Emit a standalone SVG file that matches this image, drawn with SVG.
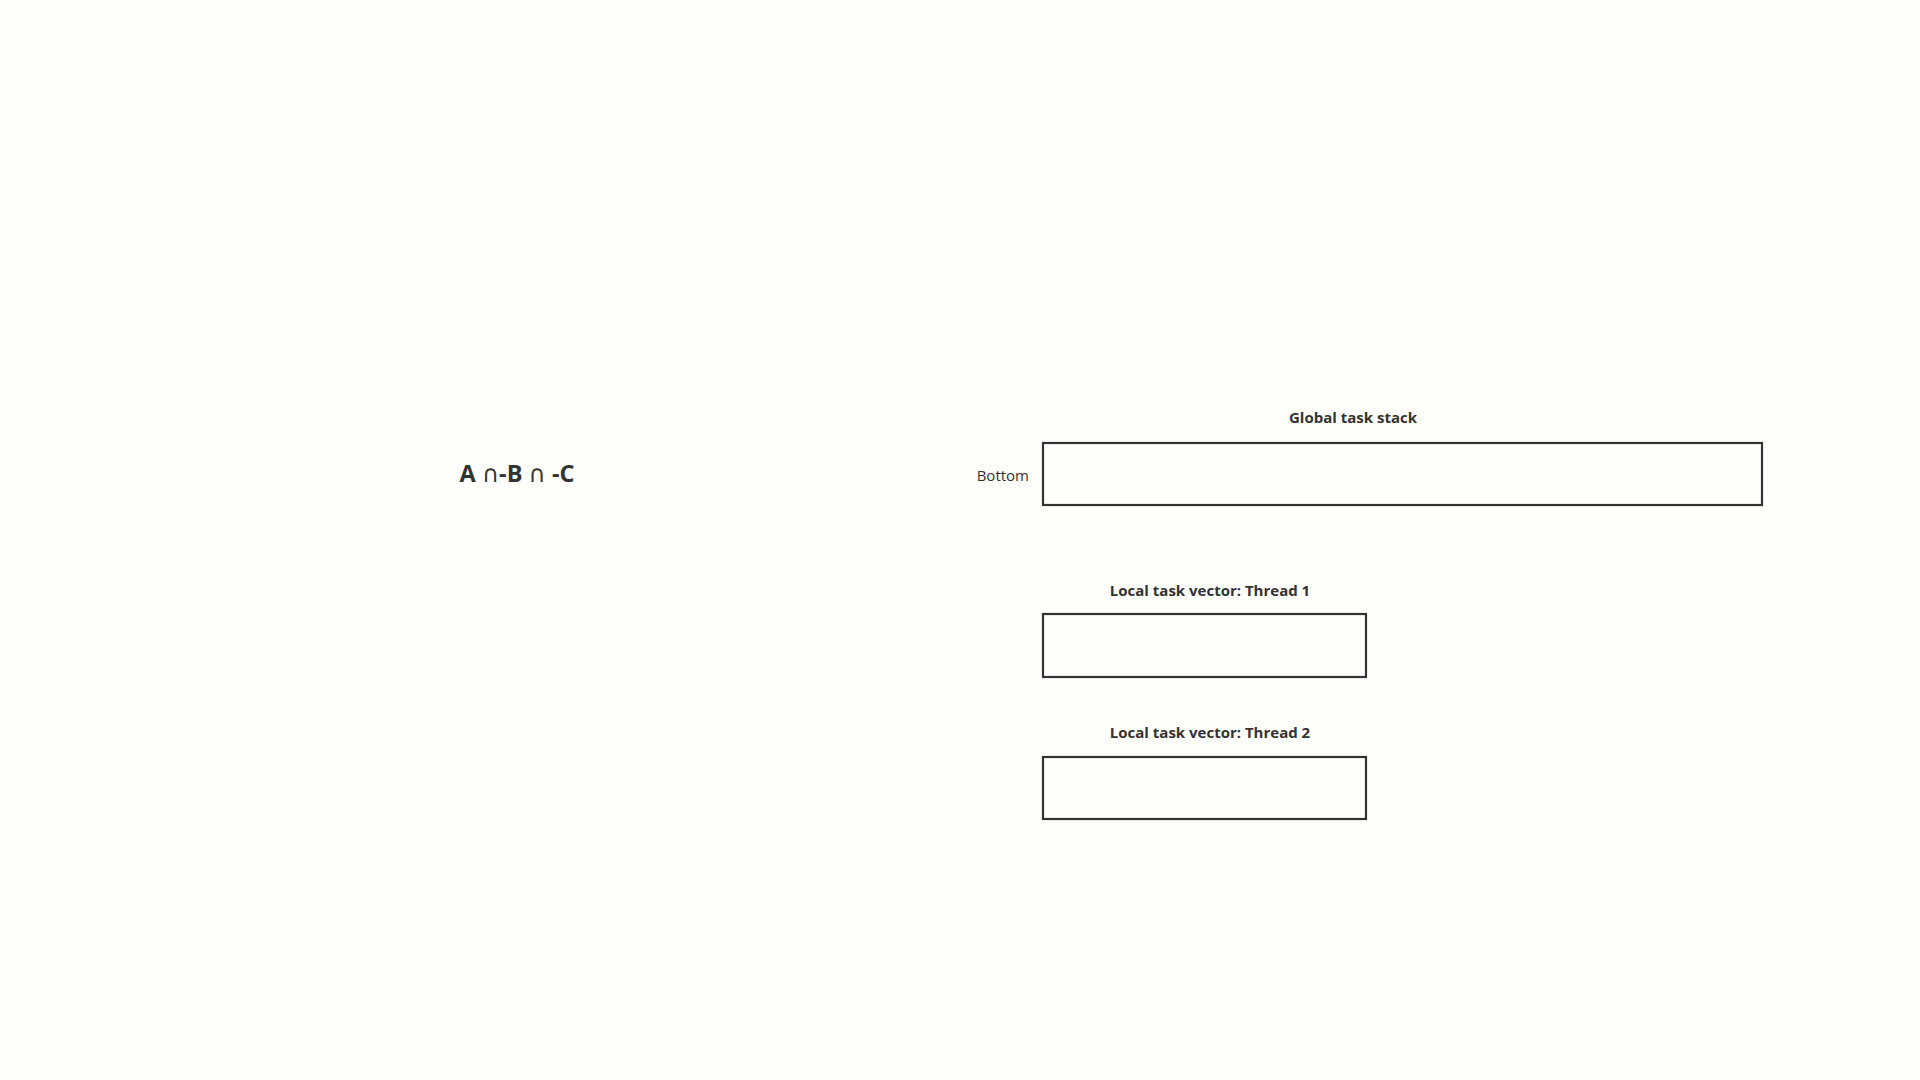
<svg xmlns="http://www.w3.org/2000/svg" width="1920" height="1080" viewBox="0 0 1920 1080">
<style>
.box{fill:none;stroke:#333333;stroke-width:2.2}
.lbl{font-family:"Open Sans","Noto Sans","DejaVu Sans",sans-serif;font-weight:bold;font-size:15px;fill:#333333}
.reg{font-family:"Open Sans","Noto Sans","DejaVu Sans",sans-serif;font-size:15px;fill:#333333}
.formula{font-family:"Open Sans","Noto Sans","DejaVu Sans",sans-serif;font-weight:bold;font-size:23.5px;fill:#333333}
.cap{font-family:"DejaVu Sans",sans-serif;font-weight:normal}
</style>
<rect x="0" y="0" width="1920" height="1080" fill="#fefefb"/>
<g id="formula">
<text class="formula" x="517" y="482" text-anchor="middle">A <tspan class="cap">∩</tspan>-B <tspan class="cap">∩</tspan> -C</text>
</g>
<g id="global-stack">
<text class="lbl" x="1353" y="423" text-anchor="middle">Global task stack</text>
<text class="reg" x="1029" y="481" text-anchor="end">Bottom</text>
<rect class="box" x="1043" y="443" width="719" height="62"/>
</g>
<g id="thread1">
<text class="lbl" x="1210" y="596" text-anchor="middle">Local task vector: Thread 1</text>
<rect class="box" x="1043" y="614" width="323" height="63"/>
</g>
<g id="thread2">
<text class="lbl" x="1210" y="738" text-anchor="middle">Local task vector: Thread 2</text>
<rect class="box" x="1043" y="757" width="323" height="62"/>
</g>
<g id="connectors"/>
</svg>
